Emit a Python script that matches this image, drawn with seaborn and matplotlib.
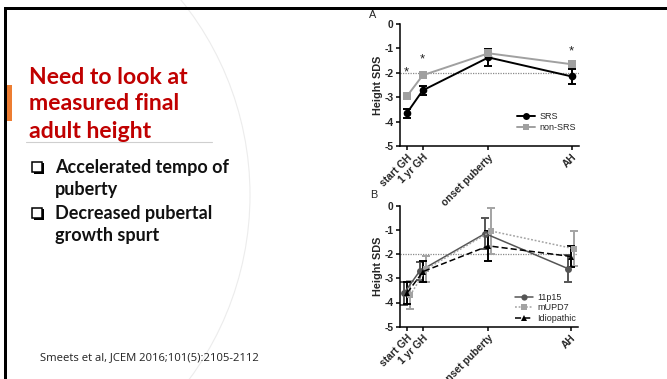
import matplotlib
matplotlib.use("Agg")
import matplotlib.pyplot as plt
import seaborn as sns
import pandas as pd
from matplotlib.patches import Circle, Rectangle
from matplotlib.lines import Line2D

# ---------------- data ----------------
timepoints = ["start GH", "1 yr GH", "onset puberty", "AH"]
time_pos = [0, 1, 5.1, 10.3]

a_groups = ["SRS", "non-SRS"]
srs_mean = [-3.66, -2.72, -1.37, -2.15]
srs_err = [0.18, 0.17, 0.36, 0.31]
nonsrs_mean = [-2.97, -2.10, -1.20, -1.65]
nonsrs_err = [0.06, 0.07, 0.12, 0.10]
star_pos = [0, 1, 10.3]
star_y = [-1.90, -1.37, -1.04]

b_groups = ["11p15", "mUPD7", "Idiopathic"]
p11_mean = [-3.62, -2.70, -1.15, -2.60]
p11_err = [0.48, 0.38, 0.65, 0.55]
mupd_mean = [-3.70, -2.62, -1.05, -1.78]
mupd_err = [0.58, 0.55, 0.95, 0.72]
idio_mean = [-3.60, -2.72, -1.66, -2.10]
idio_err = [0.46, 0.42, 0.62, 0.45]

ref_line = -2

title_lines = ["Need to look at", "measured final", "adult height"]
bullets = [["Accelerated tempo of", "puberty"], ["Decreased pubertal", "growth spurt"]]
citation = "Smeets et al, JCEM 2016;101(5):2105-2112"

# ---------------- figure ----------------
W, H = 667, 379
sns.set_theme(style="white")
plt.rcParams["font.family"] = ["Liberation Sans", "DejaVu Sans"]
fig = plt.figure(figsize=(W / 100, H / 100), dpi=100)
fig.patch.set_facecolor("white")

def fx(x):
    return x / W

def fy(y):
    return 1 - y / H

# background decoration axes (pixel coordinates)
bg = fig.add_axes([0, 0, 1, 1], zorder=0)
bg.set_xlim(0, W)
bg.set_ylim(H, 0)
bg.axis("off")
bg.add_patch(Circle((-60, 195), 310, fill=False, ec="#ececec", lw=0.8))
bg.add_patch(Rectangle((4, 7), W, 2.6, color="black", lw=0))
bg.add_patch(Rectangle((4, 7), 2.6, H, color="black", lw=0))
bg.add_patch(Rectangle((6.6, 85), 5.5, 36, color="#ED7D31", lw=0))
bg.plot([26, 212], [141.5, 141.5], color="#cfcfcf", lw=0.8)

slide_font = ["Lato", "DejaVu Sans"]
for i, line in enumerate(title_lines):
    fig.text(fx(29), fy(77 + i * 27), line, color="#C00000", fontsize=16.6,
             fontweight="bold", family=slide_font, va="center", ha="left")

by = 168
for items in bullets:
    # shadowed check box bullet
    bg.add_patch(Rectangle((33.5, by - 5), 10, 10.5, color="black", lw=0))
    bg.add_patch(Rectangle((32, by - 6.5), 9.5, 10, fc="white", ec="black", lw=1.1))
    for j, t in enumerate(items):
        fig.text(fx(55), fy(by + j * 21.5), t, fontsize=13, fontweight="bold",
                 family=slide_font, va="center", ha="left", color="#111111")
    by += 46

fig.text(fx(40), fy(358), citation, fontsize=8.1, family=["Open Sans", "DejaVu Sans"],
         va="center", ha="left", color="#222222")


def style_axes(ax):
    ax.set_xlim(-0.42, 10.75)
    ax.set_ylim(-5, 0)
    ax.set_yticks([0, -1, -2, -3, -4, -5])
    ax.set_yticklabels(["0", "-1", "-2", "-3", "-4", "-5"], fontsize=7.4, fontweight="bold")
    ax.set_xticks(time_pos)
    ax.set_xticklabels(timepoints, rotation=45, ha="right", rotation_mode="anchor",
                       fontsize=7.4, fontweight="bold")
    for s in ["top", "right"]:
        ax.spines[s].set_visible(False)
    for s in ["left", "bottom"]:
        ax.spines[s].set_color("black")
        ax.spines[s].set_linewidth(1.1)
    ax.tick_params(axis="both", length=3, width=1.1, color="black", pad=1.5,
                   left=True, bottom=True)
    ax.set_xlabel("")
    ax.set_ylabel("Height SDS", fontsize=7.8, fontweight="bold", labelpad=1)
    ax.axhline(ref_line, color="#8a8a8a", lw=0.9, ls=(0, (1, 1)), zorder=0)
    ax.set_facecolor("none")

# ---------------- panel A ----------------
axA = fig.add_axes([fx(400), fy(146), fx(579 - 400), fy(24) - fy(146)], zorder=2)
dfA = pd.DataFrame({
    "x": time_pos * 2,
    "y": srs_mean + nonsrs_mean,
    "err": srs_err + nonsrs_err,
    "group": [a_groups[0]] * 4 + [a_groups[1]] * 4,
})
palA = {"SRS": "black", "non-SRS": "#a0a0a0"}
sns.lineplot(data=dfA, x="x", y="y", hue="group", style="group", palette=palA,
             markers={"SRS": "o", "non-SRS": "s"}, dashes=False, markersize=5.5,
             markeredgewidth=0, lw=1.4, ax=axA, legend=False, zorder=3)
for g in a_groups:
    d = dfA[dfA.group == g]
    axA.errorbar(d.x, d.y, yerr=d.err, fmt="none", ecolor=palA[g], elinewidth=1.4,
                 capsize=3, capthick=1.4, zorder=2)
for sx, sy in zip(star_pos, star_y):
    axA.text(sx, sy - 0.1, "*", ha="center", va="center", fontsize=9.5, color="#222222")
style_axes(axA)
hA = [Line2D([], [], color=palA[g], marker=m, markersize=5, lw=1.4, markeredgewidth=0)
      for g, m in zip(a_groups, ["o", "s"])]
axA.legend(hA, a_groups, loc="center left", bbox_to_anchor=(fx(512), fy(122)),
           bbox_transform=fig.transFigure, frameon=False, fontsize=6.5,
           handlelength=2.0, handletextpad=0.5, labelspacing=0.2, borderpad=0)
fig.text(fx(373), fy(15), "A", fontsize=7.8, va="center", ha="center")

# ---------------- panel B ----------------
axB = fig.add_axes([fx(400), fy(326.7), fx(578 - 400), fy(205.7) - fy(326.7)], zorder=2)
offsets = {"11p15": -0.18, "mUPD7": 0.22, "Idiopathic": 0.03}
dfB = pd.DataFrame({
    "x": time_pos * 3,
    "y": p11_mean + mupd_mean + idio_mean,
    "err": p11_err + mupd_err + idio_err,
    "group": [b_groups[0]] * 4 + [b_groups[1]] * 4 + [b_groups[2]] * 4,
})
dfB["xd"] = dfB.x + dfB.group.map(offsets)
palB = {"11p15": "#555555", "mUPD7": "#a3a3a3", "Idiopathic": "black"}
dashB = {"11p15": "", "mUPD7": (1.2, 1.2), "Idiopathic": (4, 2)}
markB = {"11p15": "o", "mUPD7": "s", "Idiopathic": "^"}
for g in ["mUPD7", "11p15", "Idiopathic"]:
    d = dfB[dfB.group == g]
    axB.errorbar(d.xd, d.y, yerr=d.err, fmt="none", ecolor=palB[g], elinewidth=1.4,
                 capsize=3, capthick=1.4, zorder=2)
sns.lineplot(data=dfB, x="xd", y="y", hue="group", style="group", palette=palB,
             markers=markB, dashes=dashB, markersize=5, markeredgewidth=0,
             lw=1.1, ax=axB, legend=False, zorder=3)
style_axes(axB)
hB = [Line2D([], [], color=palB[g], marker=markB[g], markersize=4.5, lw=1.1,
             markeredgewidth=0, ls=("-" if dashB[g] == "" else (0, dashB[g])))
      for g in b_groups]
axB.legend(hB, b_groups, loc="center left", bbox_to_anchor=(fx(510), fy(308)),
           bbox_transform=fig.transFigure, frameon=False, fontsize=6.5,
           handlelength=2.0, handletextpad=0.5, labelspacing=0.2, borderpad=0)
fig.text(fx(374), fy(195), "B", fontsize=7.8, va="center", ha="center")

fig.savefig("out.png", dpi=100, facecolor="white")
